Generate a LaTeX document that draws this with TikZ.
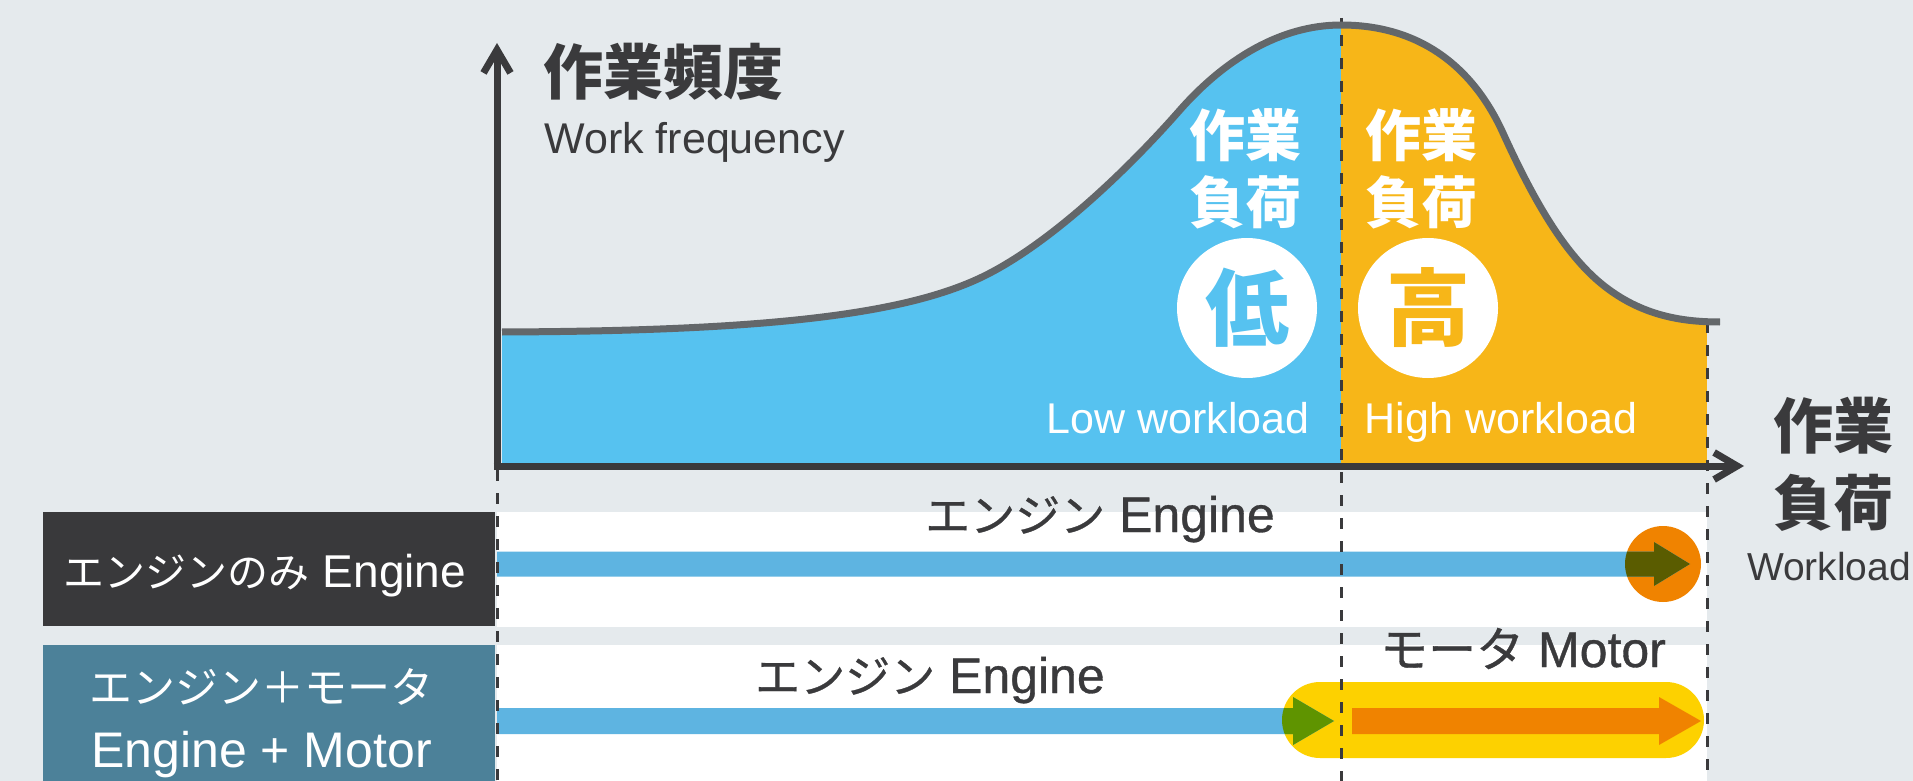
\documentclass[tikz,border=0pt]{standalone}
\usepackage{fontspec}
\setmainfont{Liberation Sans}
\newfontfamily\jp{Noto Sans CJK JP}
\newfontfamily\medfont[FakeBold=0.7]{Liberation Sans}
\newfontfamily\jpmed[FakeBold=0.7]{Noto Sans CJK JP}
\usetikzlibrary{arrows.meta}
\definecolor{bgc}{HTML}{E5EAED}
\definecolor{bluefill}{HTML}{56C2F0}
\definecolor{orangefill}{HTML}{F7B618}
\definecolor{curvegray}{HTML}{63676A}
\definecolor{dark}{HTML}{3A3A3C}
\definecolor{darkbox}{HTML}{39393B}
\definecolor{tealbox}{HTML}{4C8199}
\definecolor{barblue}{HTML}{5EB4E1}
\definecolor{orangec}{HTML}{F08300}
\definecolor{olive}{HTML}{5A5C00}
\definecolor{yellowc}{HTML}{FDD100}
\definecolor{greenc}{HTML}{5F9400}
\begin{document}
\begin{tikzpicture}[x=0.5pt,y=-0.5pt,
  dashv/.style={draw=dark, line width=1.5pt, dash pattern=on 5.5pt off 6pt},
  axisline/.style={draw=dark, line width=3.5pt, -{Straight Barb[length=11.5pt,width=13.5pt]}},
  curveline/.style={draw=curvegray, line width=3.5pt},
  jpw/.style={font=\jp\bfseries\fontsize{28}{28}\selectfont, text=white, inner sep=0pt},
  jpd/.style={font=\jp\bfseries\fontsize{30}{30}\selectfont, text=dark, inner sep=0pt},
  bigc/.style={circle, fill=white, minimum size=70pt, inner sep=0pt, font=\jp\bfseries\fontsize{42}{42}\selectfont},
  enw/.style={anchor=base, font=\fontsize{21.5}{21.5}\selectfont, text=white, inner sep=0pt},
  rowlab/.style={anchor=base, font=\medfont\fontsize{25}{25}\selectfont, text=dark, inner sep=0pt},
  boxlab/.style={anchor=base, text=white, inner sep=0pt}
]
\useasboundingbox (0,0) rectangle (1913,781);
\fill[bgc] (0,0) rectangle (1913,781);

% area under the curve
\begin{scope}
\clip (502,332) .. controls (760,331) and (900,315.6) .. (980,278)
  .. controls (1050,245) and (1130,167) .. (1180,110)
  .. controls (1225,59) and (1281,25) .. (1341,25)
  .. controls (1420,25) and (1473,67) .. (1503,133)
  .. controls (1533,199) and (1562,249) .. (1597,280)
  .. controls (1637,315) and (1680,322) .. (1720,322)
  -- (1720,466) -- (502,466) -- cycle;
\fill[bluefill] (501,0) rectangle (1341,466);
\fill[orangefill] (1341,0) rectangle (1707,466);
\end{scope}

% lower section bands
\fill[white] (497,512) rectangle (1707,626.5);
\fill[white] (497,645) rectangle (1707,781);
\node[fill=darkbox, minimum width=226pt, minimum height=57pt, inner sep=0pt, anchor=north west] (box1) at (43,512) {};
\node[fill=tealbox, minimum width=226pt, minimum height=72pt, inner sep=0pt, anchor=north west] (box2) at (43,645) {};

% row 1: engine only
\node[circle, fill=orangec, minimum size=38pt, inner sep=0pt] (c1) at (1663,564) {};
\fill[barblue] (497,551.5) -- (1654,551.5) -- (1654,542) -- (1690,564) -- (1654,586) -- (1654,576.5) -- (497,576.5) -- cycle;
\begin{scope}
\clip (1663,564) circle[radius=19pt];
\fill[olive] (497,551.5) -- (1654,551.5) -- (1654,542) -- (1690,564) -- (1654,586) -- (1654,576.5) -- (497,576.5) -- cycle;
\end{scope}

% row 2: engine + motor
\fill[yellowc, rounded corners=19pt] (1282,682) rectangle (1704,758);
\fill[barblue] (497,708) -- (1293,708) -- (1293,697) -- (1334,721) -- (1293,745) -- (1293,734) -- (497,734) -- cycle;
\begin{scope}
\clip[rounded corners=19pt] (1282,682) rectangle (1704,758);
\fill[greenc] (497,708) -- (1293,708) -- (1293,697) -- (1334,721) -- (1293,745) -- (1293,734) -- (497,734) -- cycle;
\end{scope}
\fill[orangec] (1352,708) -- (1659,708) -- (1659,697) -- (1701,721) -- (1659,745) -- (1659,734) -- (1352,734) -- cycle;

% dashed guide lines
\coordinate (d1a) at (497,470);
\coordinate (d1b) at (497,781);
\coordinate (d2a) at (1341,18);
\coordinate (d2b) at (1341,781);
\coordinate (d3a) at (1707,322);
\coordinate (d3b) at (1707,781);
\draw[dashv] (d1a) -- (d1b);
\draw[dashv, dash phase=3pt] (d2a) -- (d2b);
\draw[dashv] (d3a) -- (d3b);

% curve
\draw[curveline] (502,332) .. controls (760,331) and (900,315.6) .. (980,278)
  .. controls (1050,245) and (1130,167) .. (1180,110)
  .. controls (1225,59) and (1281,25) .. (1341,25)
  .. controls (1420,25) and (1473,67) .. (1503,133)
  .. controls (1533,199) and (1562,249) .. (1597,280)
  .. controls (1637,315) and (1680,322) .. (1720,322);

% axes
\coordinate (ybot) at (497,469.5);
\coordinate (ytip) at (497,43);
\coordinate (xleft) at (493.5,466);
\coordinate (xtip) at (1744,466);
\draw[axisline] (ybot) -- (ytip);
\draw[axisline] (xleft) -- (xtip);

% axis titles
\node[jpd] (ytitle) at (663,71.5) {作業頻度};
\node[anchor=base west, font=\fontsize{21.5}{21.5}\selectfont, text=dark, inner sep=0pt] (ysub) at (544,154) {Work frequency};
\node[jpd] (xl1) at (1833,426) {作業};
\node[jpd] (xl2) at (1833,503) {負荷};
\node[anchor=base, font=\fontsize{19.5}{19.5}\selectfont, text=dark, inner sep=0pt] (xl3) at (1829,580) {Workload};

% low / high labels
\node[jpw] (low1) at (1245,135) {作業};
\node[jpw] (low2) at (1245,202) {負荷};
\node[bigc, text=bluefill] (lowc) at (1247,308) {低};
\node[enw] (lowen) at (1178,433) {Low workload};
\node[jpw] (high1) at (1421,135) {作業};
\node[jpw] (high2) at (1421,202) {負荷};
\node[bigc, text=orangefill] (highc) at (1428,308) {高};
\node[enw] (highen) at (1501,433) {High workload};

% row labels
\node[rowlab] (eng1) at (1100,532) {{\jpmed\fontsize{22.5}{22.5}\selectfont エンジン} Engine};
\node[rowlab] (eng2) at (930,693) {{\jpmed\fontsize{22.5}{22.5}\selectfont エンジン} Engine};
\node[rowlab] (motor) at (1523,667) {{\jpmed\fontsize{24}{24}\selectfont モータ} Motor};

% left boxes text
\node[boxlab, font=\fontsize{23}{23}\selectfont] (box1t) at (265,587) {{\jp\fontsize{20.5}{20.5}\selectfont エンジンのみ} Engine};
\node[boxlab, font=\jp\fontsize{21.5}{21.5}\selectfont] (box2t1) at (261.5,703) {エンジン＋モータ};
\node[boxlab, font=\fontsize{25}{25}\selectfont] (box2t2) at (261.5,767) {Engine + Motor};
\end{tikzpicture}
\end{document}
